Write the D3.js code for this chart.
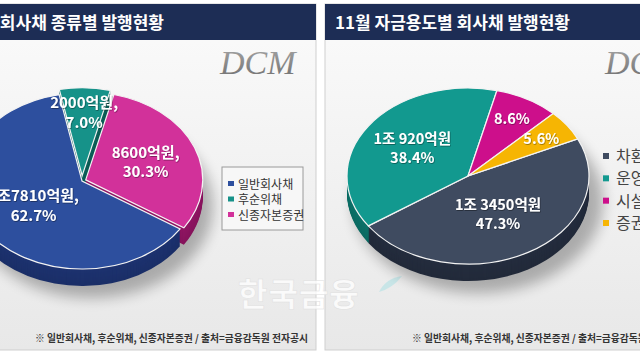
<!DOCTYPE html>
<html><head><meta charset="utf-8">
<script src="https://cdn.jsdelivr.net/npm/d3@7/dist/d3.min.js"></script>
<style>
html,body{margin:0;padding:0;background:#fff;overflow:hidden;}
svg{display:block;}
</style></head>
<body>
<svg id="c" width="640" height="360"></svg>
<script>
// ---------- DATA ----------
const leftTitle = "11월 회사채 종류별 발행현황";
const leftCategories = ["일반회사채", "후순위채", "신종자본증권"];
const leftValues = [62.7, 7.0, 30.3];
const leftAmounts = ["1조7810억원,", "2000억원,", "8600억원,"];

const rightTitle = "11월 자금용도별 회사채 발행현황";
const rightCategories = ["차환자금", "운영자금", "시설자금", "증권매입"];
const rightValues = [47.3, 38.4, 8.6, 5.6];
const rightAmounts = ["1조 3450억원", "1조 920억원", "", ""];

const footnote = "※ 일반회사채, 후순위채, 신종자본증권 / 출처=금융감독원 전자공시";
const brand = "DCM";
const watermark = "한국금융";

// ---------- STYLE ----------
const FONT = "'Noto Sans CJK KR','Noto Sans',sans-serif";
const leftColors = ["#2d4f9e", "#169289", "#d2319a"];
const leftSides  = ["#1b2f68", "#0c5a53", "#86145c"];
const rightColors = ["#3f4b60", "#12998f", "#cd0f8b", "#f6b503"];
const rightSides  = ["#222a3a", "#0b6a62", "#7e0a56", "#a87a00"];

const svg = d3.select("#c");
const defs = svg.append("defs");

const bg = defs.append("linearGradient").attr("id","panelBg").attr("x1",0).attr("y1",0).attr("x2",0).attr("y2",1);
bg.append("stop").attr("offset","0%").attr("stop-color","#fbfbfb");
bg.append("stop").attr("offset","100%").attr("stop-color","#e8e8e8");

const dg = defs.append("linearGradient").attr("id","dcmGrad").attr("x1",0).attr("y1",0).attr("x2",0).attr("y2",1);
dg.append("stop").attr("offset","0%").attr("stop-color","#a8a8a8");
dg.append("stop").attr("offset","100%").attr("stop-color","#6e6e6e");

defs.append("filter").attr("id","blur").attr("x","-50%").attr("y","-50%").attr("width","200%").attr("height","200%")
  .append("feGaussianBlur").attr("stdDeviation", 7);
const ts = defs.append("filter").attr("id","tshadow").attr("x","-20%").attr("y","-20%").attr("width","140%").attr("height","140%");
ts.append("feDropShadow").attr("dx",0.6).attr("dy",0.8).attr("stdDeviation",0.6).attr("flood-color","#000").attr("flood-opacity",0.45);

function panel(x, w, title, titleAnchor, titleX) {
  const g = svg.append("g");
  g.append("rect").attr("x", x).attr("y", 4).attr("width", w).attr("height", 346)
    .attr("fill", "url(#panelBg)").attr("stroke", "#cfcfcf").attr("stroke-width", 1);
  g.append("rect").attr("x", x).attr("y", 4).attr("width", w).attr("height", 36).attr("fill", "#1d2d55");
  g.append("text").attr("x", titleX).attr("y", 29).attr("text-anchor", titleAnchor)
    .attr("font-family", FONT).attr("font-weight", "bold").attr("font-size", 17)
    .attr("fill", "#fff").text(title);
  return g;
}

panel(-5, 321, leftTitle, "end", 164);
panel(325, 330, rightTitle, "start", 335);

// brand text
[220, 605].forEach(bx => {
  svg.append("text").attr("x", bx).attr("y", 74)
    .attr("font-family", "'Liberation Serif','DejaVu Serif',serif").attr("font-style", "italic")
    .attr("font-size", 34).attr("fill", "url(#dcmGrad)").text(brand);
});

// watermark
svg.append("text").attr("x", 238).attr("y", 306)
  .attr("font-family", FONT).attr("font-weight", "bold").attr("font-size", 32)
  .attr("fill", "#ffffff").attr("fill-opacity", 0.8).attr("stroke", "#dedede").attr("stroke-width", 0.5)
  .attr("letter-spacing", 1).text(watermark);
svg.append("path").attr("d", "M379,292 Q386,278 402,276 Q393,288 379,292 Z")
  .attr("fill", "#bfe3e6").attr("opacity", 0.8);

// footnotes
[35, 412].forEach(fx => {
  svg.append("text").attr("x", fx).attr("y", 342).attr("font-family", FONT).attr("font-weight", "bold")
    .attr("font-size", 10).attr("fill", "#333").attr("textLength", 273).attr("lengthAdjust", "spacingAndGlyphs").text(footnote);
});

// ---------- 3D-ish pie ----------
function drawPie(opt) {
  const {cx, cy, rx, ry, depth, values, colors, sides, startDeg, explode, labels} = opt;
  const s = ry / rx;
  const pie = d3.pie().sort(null).value(d => d)
    .startAngle(startDeg * Math.PI / 180).endAngle(startDeg * Math.PI / 180 + 2 * Math.PI);
  const arcs = pie(values);
  const arc = d3.arc().innerRadius(0).outerRadius(rx);
  const off = arcs.map((a, i) => {
    const m = (a.startAngle + a.endAngle) / 2, e = explode[i] || 0;
    return [e * Math.sin(m), -e * Math.cos(m) * s];
  });

  svg.append("ellipse").attr("cx", cx + 10).attr("cy", cy + depth + 8).attr("rx", rx + 4).attr("ry", ry + 4)
    .attr("fill", "#000").attr("opacity", 0.28).attr("filter", "url(#blur)");

  for (let k = depth; k >= 1; k--) {
    const g = svg.append("g");
    arcs.forEach((a, i) => {
      g.append("path").attr("d", arc(a))
        .attr("transform", `translate(${cx + off[i][0]},${cy + off[i][1] + k}) scale(1,${s})`)
        .attr("fill", d3.color(sides[i]).brighter(0.2 * (1 - k / depth)))
        .attr("stroke", "none");
    });
  }
  arcs.forEach((a, i) => {
    svg.append("path").attr("d", arc(a))
      .attr("transform", `translate(${cx + off[i][0]},${cy + off[i][1]}) scale(1,${s})`)
      .attr("fill", colors[i]).attr("stroke", "#f3f3f3").attr("stroke-width", 1.2).attr("vector-effect", "non-scaling-stroke");
  });
  arcs.forEach((a, i) => {
    const m = (a.startAngle + a.endAngle) / 2;
    const f = labels.radius[i];
    const lx = cx + off[i][0] + f * rx * Math.sin(m);
    const ly = cy + off[i][1] - f * ry * Math.cos(m);
    const lines = labels.text[i];
    const t = svg.append("text").attr("text-anchor", "middle").attr("font-family", FONT)
      .attr("font-weight", "bold").attr("font-size", labels.size).attr("fill", "#fff")
      .attr("filter", "url(#tshadow)");
    const lh = labels.size * 1.32;
    lines.forEach((ln, j) => {
      t.append("tspan").attr("x", lx).attr("y", ly + (j - (lines.length - 1) / 2) * lh + labels.size * 0.36).text(ln);
    });
  });
}

drawPie({
  cx: 82, cy: 181, rx: 117, ry: 88, depth: 17,
  values: leftValues, colors: leftColors, sides: leftSides,
  startDeg: 123, explode: [0, 7, 4],
  labels: {
    size: 15,
    radius: [0.5, 0.72, 0.55],
    text: leftValues.map((v, i) => [leftAmounts[i], v.toFixed(1) + "%"])
  }
});

drawPie({
  cx: 468, cy: 176, rx: 121, ry: 88, depth: 17,
  values: rightValues, colors: rightColors, sides: rightSides,
  startDeg: 65, explode: [0, 0, 0, 0],
  labels: {
    size: 14.5,
    radius: rightValues.map(v => v < 10 ? 0.74 : (v > 45 ? 0.5 : 0.56)),
    text: rightValues.map((v, i) => rightAmounts[i] ? [rightAmounts[i], v.toFixed(1) + "%"] : [v.toFixed(1) + "%"])
  }
});

// ---------- legends ----------
const lg = svg.append("g");
lg.append("rect").attr("x", 222).attr("y", 167).attr("width", 81).attr("height", 63)
  .attr("fill", "#f7f7f7").attr("stroke", "#9a9a9a").attr("stroke-width", 1);
const ly = d3.scalePoint().domain(leftCategories).range([184, 215]);
leftCategories.forEach((c, i) => {
  lg.append("rect").attr("x", 228).attr("y", ly(c) - 3).attr("width", 6).attr("height", 5).attr("fill", leftColors[i]);
  lg.append("text").attr("x", 238).attr("y", ly(c) + 4.5).attr("font-family", FONT)
    .attr("font-size", 12).attr("fill", "#333").text(c);
});

const ry2 = d3.scalePoint().domain(rightCategories).range([156, 223]);
rightCategories.forEach((c, i) => {
  svg.append("rect").attr("x", 603).attr("y", ry2(c) - 3).attr("width", 6).attr("height", 6).attr("fill", rightColors[i]);
  svg.append("text").attr("x", 616).attr("y", ry2(c) + 6).attr("font-family", FONT)
    .attr("font-size", 16).attr("fill", "#444").text(c);
});
</script>
</body></html>
